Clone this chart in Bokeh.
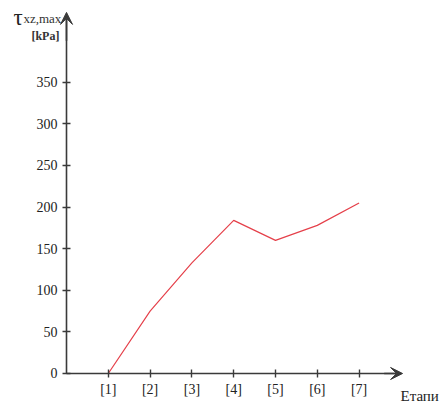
from bokeh.plotting import figure
from bokeh.models import Range1d, FixedTicker, Arrow, VeeHead, Label
from bokeh.embed import file_html
from bokeh.resources import INLINE

# Stages and maximum shear stress per stage
stages = [1, 2, 3, 4, 5, 6, 7]
stage_labels = ["[1]", "[2]", "[3]", "[4]", "[5]", "[6]", "[7]"]
tau_max = [0, 75, 133, 184, 160, 178, 205]
y_ticks = [0, 50, 100, 150, 200, 250, 300, 350]

FONT = "Liberation Serif"
AXIS_COLOR = "#3a3a3a"

# the frame fills the whole canvas; both axes sit at the origin
p = figure(width=446, height=403, output_backend="svg", toolbar_location=None,
           x_range=Range1d(-1.579, 9.091), y_range=Range1d(-36.06, 448.3),
           min_border_left=0, min_border_right=0, min_border_top=0,
           min_border_bottom=0)
p.outline_line_color = None
p.xgrid.visible = False
p.ygrid.visible = False
p.background_fill_color = "white"
p.border_fill_color = "white"

for ax in (p.xaxis[0], p.yaxis[0]):
    ax.fixed_location = 0
    ax.axis_line_color = AXIS_COLOR
    ax.axis_line_width = 1.6
    ax.major_tick_line_color = AXIS_COLOR
    ax.major_tick_line_width = 1.4
    ax.major_tick_in = 4
    ax.major_tick_out = 4
    ax.minor_tick_line_color = None
    ax.major_label_text_font = FONT
    ax.major_label_text_font_size = "14px"
    ax.major_label_text_color = "#222222"

p.xaxis.ticker = FixedTicker(ticks=stages)
p.xaxis.major_label_overrides = {s: l for s, l in zip(stages, stage_labels)}
p.xaxis.major_label_standoff = 5
p.xaxis.bounds = (0, 7.9)

p.yaxis.ticker = FixedTicker(ticks=y_ticks)
p.yaxis.major_label_standoff = 5
p.yaxis.bounds = (0, 425)

# arrow heads at the ends of both axes
p.add_layout(Arrow(x_start=7.6, y_start=0, x_end=8.04, y_end=0,
                   line_color=AXIS_COLOR, line_width=1.6,
                   end=VeeHead(size=12, fill_color=AXIS_COLOR, line_color=AXIS_COLOR)))
p.add_layout(Arrow(x_start=0, y_start=400, x_end=0, y_end=434,
                   line_color=AXIS_COLOR, line_width=1.6,
                   end=VeeHead(size=12, fill_color=AXIS_COLOR, line_color=AXIS_COLOR)))

p.line(stages, tau_max, line_color="#e5404a", line_width=1.2)

# axis titles
p.add_layout(Label(x=-1.27, y=428.0, text="τ", text_font=FONT, text_font_size="23px",
                   text_color="#222222", text_baseline="alphabetic"))
p.add_layout(Label(x=-1.03, y=427.0, text="xz,max", text_font=FONT, text_font_size="13px",
                   text_color="#333333", text_baseline="alphabetic"))
p.add_layout(Label(x=-0.84, y=405.5, text="[kPa]", text_font=FONT, text_font_size="12px",
                   text_font_style="bold", text_color="#333333", text_baseline="alphabetic"))
p.add_layout(Label(x=7.99, y=-26.5, text="Етапи", text_font=FONT, text_font_size="15px",
                   text_color="#222222", text_baseline="alphabetic"))

open("out.html", "w").write(file_html(p, INLINE))
